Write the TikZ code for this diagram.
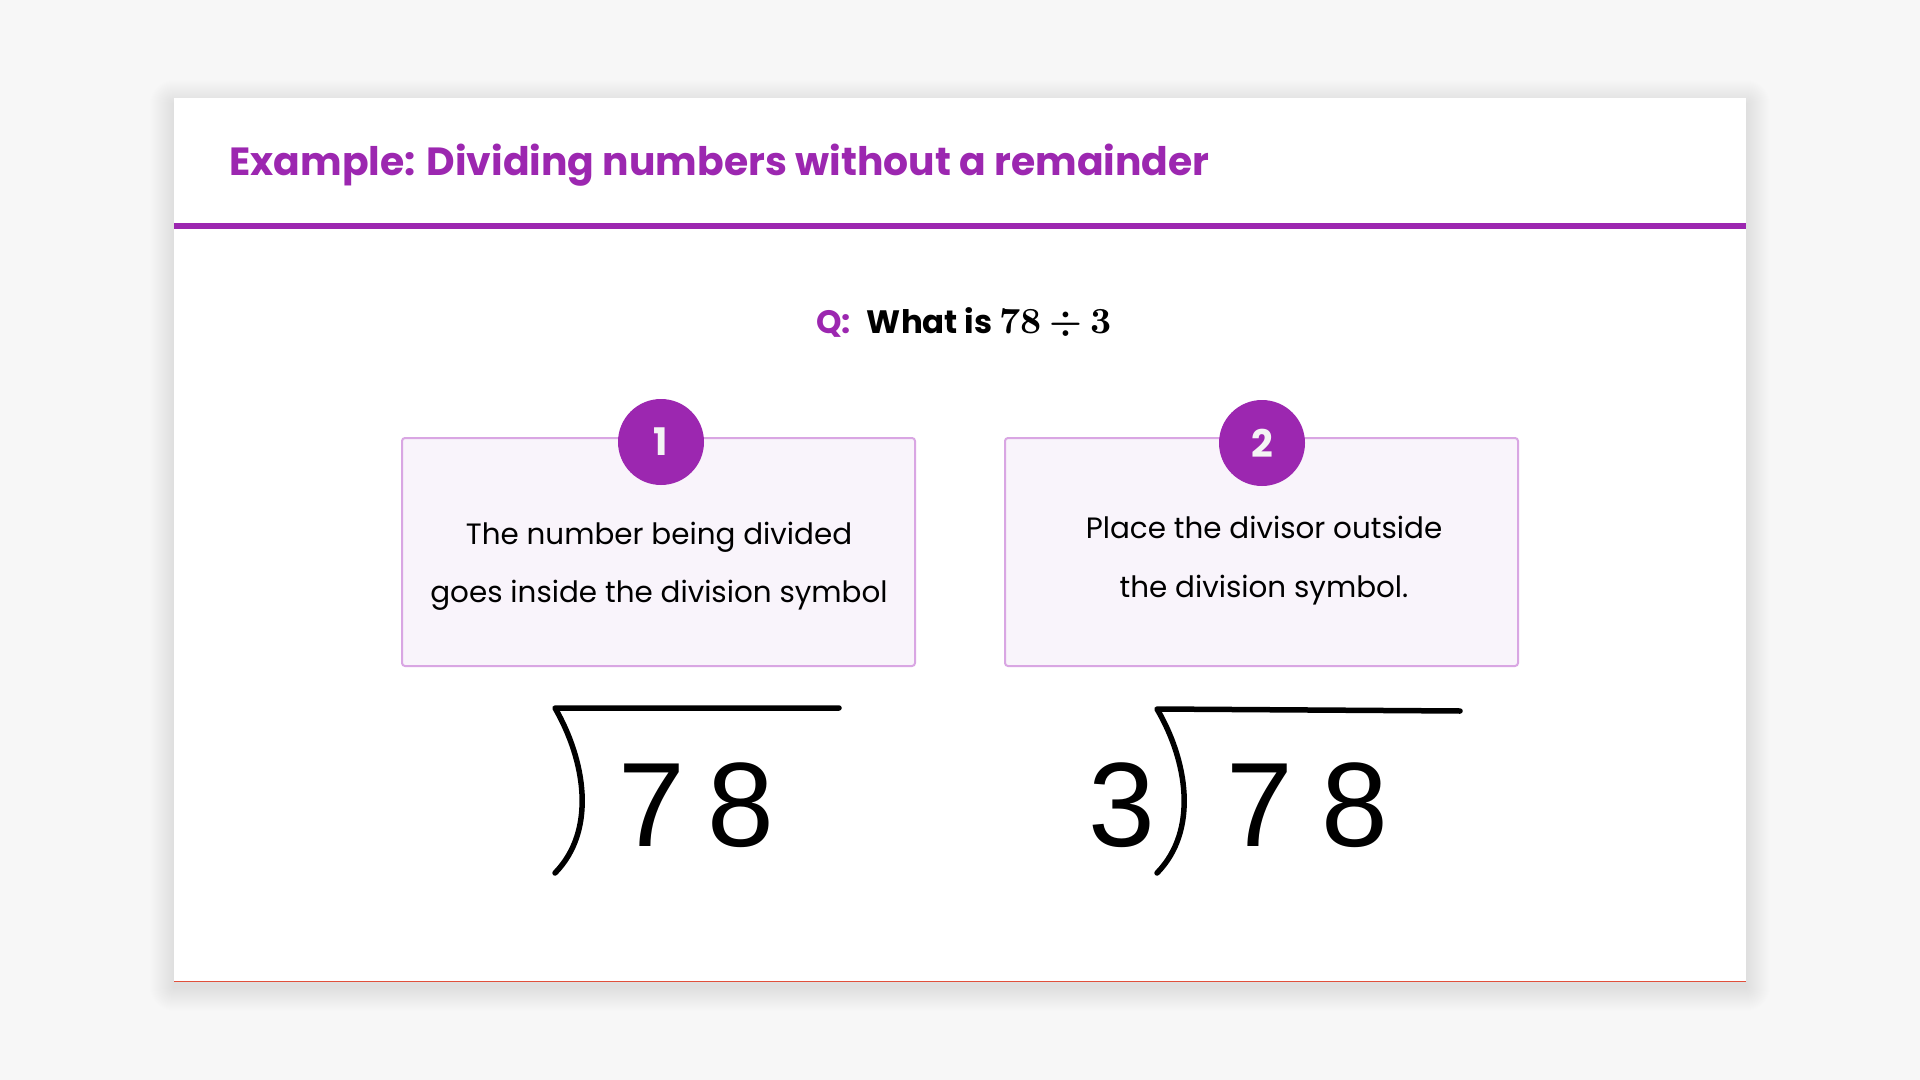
\documentclass[tikz,border=0pt]{standalone}
\usepackage[no-math]{fontspec}
\setmainfont{Poppins}
\newfontfamily\digitfont{Liberation Sans}
\newfontfamily\lmbold{lmroman10-bold}[Extension=.otf]
\definecolor{bgc}{HTML}{F7F7F7}
\definecolor{purp}{HTML}{9C27B0}
\definecolor{boxfill}{HTML}{F9F4FB}
\definecolor{boxline}{HTML}{D9A6E3}
\definecolor{redline}{HTML}{E0503C}
\definecolor{numc}{HTML}{F4F4F4}
\tikzset{
  stepbox/.style={draw=boxline, fill=boxfill, line width=1pt, rounded corners=1.5pt},
  badge/.style={circle, fill=purp, minimum size=43pt, inner sep=0pt, text=numc, font=\fontsize{19}{19}\selectfont\bfseries},
  boxtext/.style={anchor=base, inner sep=0pt, font=\fontsize{14.7}{14.7}\selectfont},
  bigdigit/.style={anchor=base, inner sep=0pt, font=\digitfont\fontsize{60}{60}\selectfont},
  divline/.style={line width=2.75pt, line cap=round, line join=round, black}
}
\begin{document}
\begin{tikzpicture}[x=0.5pt,y=-0.5pt]
\fill[bgc] (0,0) rectangle (1920,1080);
\useasboundingbox (0,0) rectangle (1920,1080);
% soft shadow
\foreach \i in {1,...,24} {
  \fill[black, opacity=0.0028, rounded corners=\i*0.5pt] (174-\i,104-\i) rectangle (1746+\i,987+\i);
}
% card
\fill[white] (174,98) rectangle (1746,981);
\draw[redline, line width=0.5pt] (174,981) -- (1746,981);
% title
\node[anchor=base west, inner sep=0pt, text=purp, font=\fontsize{19.65}{19.65}\selectfont\bfseries] (title) at (229,176) {Example: Dividing numbers without a remainder};
\fill[purp] (174,223) rectangle (1746,229);
% question
\node[anchor=base, inner sep=0pt, font=\fontsize{16.2}{16.2}\selectfont\bfseries] (q) at (964,334) {\textcolor{purp}{Q:}\hspace{0.5em}What is {\lmbold\fontsize{18.4}{18.4}\selectfont 78\hspace{0.22em}÷\hspace{0.22em}3}};
% boxes
\draw[stepbox] (402,438) rectangle (915,666);
\node[badge] (b1) at (661,442) {1};
\node[boxtext] (t1a) at (659,544) {The number being divided};
\node[boxtext] (t1b) at (659,602) {goes inside the division symbol};
\draw[stepbox] (1005,438) rectangle (1518,666);
\node[badge] (b2) at (1262,443) {2};
\node[boxtext] (t2a) at (1264,538) {Place the divisor outside};
\node[boxtext] (t2b) at (1264,597) {the division symbol.};
% division 1
\coordinate (l1a) at (555,708);
\coordinate (l1b) at (839,708);
\coordinate (l1c) at (555,873);
\draw[divline] (l1b) -- (l1a) .. controls (585,760) and (597,830) .. (l1c);
\node[bigdigit] (s1) at (652,846) {7};
\node[bigdigit] (e1) at (741,846) {8};
% division 2
\coordinate (l2a) at (1157,709);
\coordinate (l2b) at (1460,711);
\coordinate (l2c) at (1157,873);
\draw[divline] (l2b) -- (l2a) .. controls (1187,760) and (1199,830) .. (l2c);
\node[bigdigit] (th2) at (1122,846) {3};
\node[bigdigit] (s2) at (1260,846) {7};
\node[bigdigit] (e2) at (1355,846) {8};
\end{tikzpicture}
\end{document}
